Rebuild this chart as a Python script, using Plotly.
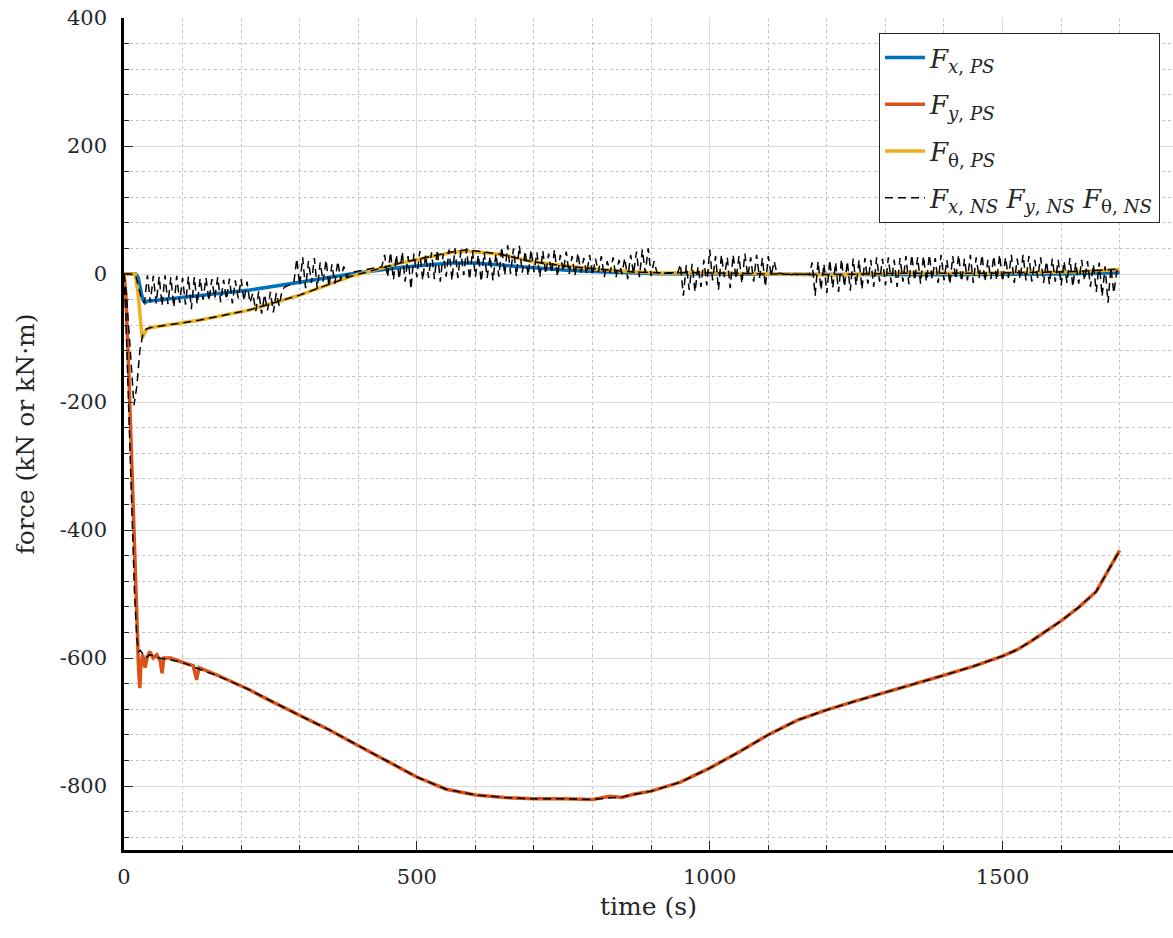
import plotly.graph_objects as go

# ---------------- data ----------------
FX_PS = [(0, 0), (20, 0), (24, -5), (28, -25), (32, -40), (36, -45), (40, -42), (44, -42),
         (130, -34), (215, -25), (300, -13), (386, 0), (471, 10), (556, 17), (600, 17),
         (642, 14), (698, 9), (756, 6), (812, 3.6), (909, 0.5), (1000, 0), (1200, -1),
         (1400, -1), (1600, 0), (1700, 2)]

FY_PS = [(0, 0), (3, -30), (8, -150), (13, -300), (18, -450), (22, -570), (25, -620),
         (27, -647), (29, -610), (32, -595), (36, -615), (40, -598), (44, -590), (50, -600),
         (56, -595), (62, -605), (65, -624), (68, -600), (80, -600), (100, -607), (118, -612),
         (124, -634), (128, -615), (160, -627), (215, -650), (250, -667), (300, -690),
         (350, -712), (400, -737), (450, -762), (500, -786), (550, -805), (600, -814),
         (650, -818), (700, -820), (750, -820), (800, -821), (830, -816), (850, -818),
         (870, -813), (900, -808), (950, -794), (1000, -772), (1050, -747), (1100, -720),
         (1150, -697), (1200, -681), (1250, -667), (1300, -654), (1350, -640), (1400, -627),
         (1450, -613), (1480, -604), (1500, -597), (1525, -587), (1550, -573), (1600, -542),
         (1631, -520), (1660, -496), (1671, -478), (1700, -432)]

FT_PS = [(0, 0), (19, 0), (24, -30), (28, -80), (31, -100), (34, -95), (38, -87), (44, -84),
         (130, -72), (215, -56), (300, -33), (386, -4), (471, 17), (556, 33), (585, 36),
         (642, 31), (698, 19), (756, 12.5), (812, 7), (869, 3.6), (909, 1.5), (983, 2),
         (1097, 0), (1210, -1.6), (1324, 1.5), (1461, 1), (1631, 3.6), (1700, 7)]

FY_NS = [(0, 0), (3, -60), (8, -210), (13, -360), (18, -500), (22, -570), (25, -590),
         (28, -588), (36, -600), (44, -595), (60, -600), (80, -603), (100, -607), (130, -618),
         (160, -628), (215, -650), (250, -667), (300, -690), (350, -712), (400, -737),
         (450, -762), (500, -786), (550, -805), (600, -814), (650, -818), (700, -820),
         (750, -820), (800, -821), (850, -817), (900, -808), (950, -794), (1000, -772),
         (1050, -747), (1100, -720), (1150, -697), (1200, -681), (1250, -667), (1300, -654),
         (1350, -640), (1400, -627), (1450, -613), (1480, -604), (1500, -597), (1525, -587),
         (1550, -573), (1600, -542), (1631, -520), (1660, -496), (1671, -478), (1700, -432)]

FT_NS = [(0, 0), (4, -30), (10, -110), (17, -205), (22, -175), (27, -120), (32, -95),
         (38, -86), (44, -84), (130, -72), (215, -56), (300, -33), (386, -4), (471, 17),
         (556, 34), (585, 38), (642, 31), (698, 19), (756, 12), (812, 7), (869, 3),
         (909, 2), (983, 2), (1097, 0), (1210, -1), (1324, 1), (1461, 1), (1631, 4), (1700, 8)]

FX_NS = [
    (0, 0), (5, 0), (10, 0), (15, 0), (20, -2), (25, -20), (30, -40), (35, -45), (40, -2), (45, -44),
    (50, -3), (55, -46), (60, -4), (65, -50), (70, -2), (75, -47), (80, -5), (85, -52), (90, -3),
    (95, -45), (100, -6), (105, -48), (110, -4), (115, -55), (120, -5), (125, -47), (130, -7),
    (135, -40), (140, -6), (145, -42), (150, -8), (155, -38), (160, -5), (165, -44), (170, -9),
    (175, -40), (180, -7), (185, -46), (190, -10), (195, -38), (200, -8), (205, -42), (210, -12),
    (215, -45), (220, -30), (225, -58), (230, -27), (235, -62), (240, -32), (245, -57), (250, -28),
    (255, -60), (260, -30), (265, -50), (270, -25), (275, -20), (280, -18), (285, -16), (290, -14),
    (295, 24), (300, -18), (305, 26), (310, -22), (315, 20), (320, -14), (325, 25), (330, -23),
    (335, 18), (340, -12), (345, 22), (350, -20), (355, 15), (360, -15), (365, 20), (370, -10),
    (375, 12), (380, -5), (385, 2), (390, 3), (395, 4), (400, 5), (405, 6), (410, 7), (415, 8),
    (420, 8), (425, 9), (430, 10), (435, 10), (440, 11),
    (445, 30), (450, -5), (455, 34), (460, -9), (465, 30), (470, -8), (475, 35), (480, -12),
    (485, 28), (490, -24), (495, 32), (500, -5), (505, 36), (510, -10), (515, 30), (520, -6),
    (525, 34), (530, -8), (535, 38), (540, -12), (545, 32), (550, -4), (555, 38), (560, -10),
    (565, 40), (570, -6), (575, 35), (580, -2), (585, 40), (590, -9), (595, 36), (600, -4),
    (605, 30), (610, -12), (615, 34), (620, -6), (625, 28), (630, -10), (635, 32), (640, -4),
    (645, 42), (650, -2), (655, 45), (660, 0), (665, 40), (670, -4), (675, 44), (680, 2),
    (685, 36), (690, -3), (695, 38), (700, 3), (705, 34), (710, -5), (715, 36), (720, 0),
    (725, 32), (730, 2), (735, 38), (740, -4), (745, 30), (750, 4), (755, 35), (760, 0),
    (765, 28), (770, -3), (775, 33), (780, 2), (785, 25), (790, 0), (795, 30), (800, -2),
    (805, 24), (810, 3), (815, 28), (820, -5), (825, 20), (830, 2), (835, 26), (840, -6),
    (845, 22), (850, 0), (855, 25), (860, -8), (865, 30), (870, 0), (875, 35), (880, -5),
    (885, 38), (890, 2), (895, 40), (900, -3), (905, 20),
    (910, 2), (915, 1), (920, 1), (925, 0), (930, 1), (935, 0), (940, 0), (945, 1),
    (950, 15), (955, -34), (960, 14), (965, -25), (970, 16), (975, -28), (980, 12), (985, -20),
    (990, 22), (995, -18), (1000, 38), (1005, -10), (1010, 28), (1015, -25), (1020, 30),
    (1025, -5), (1030, 26), (1035, -22), (1040, 30), (1045, -8), (1050, 28), (1055, -15),
    (1060, 32), (1065, -4), (1070, 26), (1075, -12), (1080, 30), (1085, -6), (1090, 25),
    (1095, -20), (1100, 28), (1105, -3), (1110, 20), (1115, 0),
    (1120, 1), (1125, 0), (1130, -1), (1135, 0), (1140, -1), (1145, 0), (1150, -1), (1155, 0),
    (1160, -1), (1165, 0), (1170, -1),
    (1175, 18), (1180, -34), (1185, 20), (1190, -25), (1195, 16), (1200, -30), (1205, 22),
    (1210, -22), (1215, 18), (1220, -28), (1225, 23), (1230, -20), (1235, 20), (1240, -26),
    (1245, 24), (1250, -18), (1255, 22), (1260, -24), (1265, 25), (1270, -15), (1275, 22),
    (1280, -20), (1285, 26), (1290, -12), (1295, 24), (1300, -18), (1305, 26), (1310, -14),
    (1315, 22), (1320, -20), (1325, 25), (1330, -12), (1335, 28), (1340, -16), (1345, 30),
    (1350, -10), (1355, 26), (1360, -15), (1365, 28), (1370, -12), (1375, 30), (1380, -8),
    (1385, 25), (1390, -14), (1395, 30), (1400, -10), (1405, 22), (1410, -16), (1415, 28),
    (1420, -8), (1425, 30), (1430, -12), (1435, 24), (1440, -10), (1445, 30), (1450, -14),
    (1455, 26), (1460, -6), (1465, 30), (1470, -12), (1475, 22), (1480, -8), (1485, 28),
    (1490, -10), (1495, 30), (1500, -12), (1505, 26), (1510, -6), (1515, 30), (1520, -14),
    (1525, 24), (1530, -8), (1535, 30), (1540, -10), (1545, 28), (1550, -12), (1555, 22),
    (1560, -6), (1565, 26), (1570, -14), (1575, 20), (1580, -16), (1585, 24), (1590, -12),
    (1595, 22), (1600, -18), (1605, 20), (1610, -14), (1615, 25), (1620, -20), (1625, 18),
    (1630, -15), (1635, 22), (1640, -10), (1645, 20), (1650, -20), (1655, 15), (1660, -28),
    (1665, 18), (1670, -35), (1675, 12), (1680, -45), (1685, 10), (1690, -30), (1695, 5),
    (1700, 2)]

X_TICKS = [0, 500, 1000, 1500]
X_TICK_TEXT = ["0", "500", "1000", "1500"]
Y_TICKS = [400, 200, 0, -200, -400, -600, -800]
Y_TICK_TEXT = ["400", "200", "0", "-200", "-400", "-600", "-800"]

BLUE, ORANGE, YELLOW = "#0072BD", "#D95319", "#EDB120"
FONT = "DejaVu Serif"
TXT = "#262626"


def xs(p):
    return [a for a, _ in p]


def ys(p):
    return [b for _, b in p]


fig = go.Figure()
fig.add_trace(go.Scatter(x=xs(FX_PS), y=ys(FX_PS), mode="lines", line=dict(color=BLUE, width=3.5),
                         legendgroup="a", name="<i>F</i><sub><i>x</i>, <i>PS</i></sub>"))
fig.add_trace(go.Scatter(x=xs(FY_PS), y=ys(FY_PS), mode="lines", line=dict(color=ORANGE, width=3.5),
                         legendgroup="b", name="<i>F</i><sub><i>y</i>, <i>PS</i></sub>"))
fig.add_trace(go.Scatter(x=xs(FT_PS), y=ys(FT_PS), mode="lines", line=dict(color=YELLOW, width=3.5),
                         legendgroup="c", name="<i>F</i><sub>θ, <i>PS</i></sub>"))
dash = dict(color="black", width=1.5, dash="8px,5px")
fig.add_trace(go.Scatter(x=xs(FX_NS), y=ys(FX_NS), mode="lines", line=dash, legendgroup="d",
                         name="<i>F</i><sub><i>x</i>, <i>NS</i></sub> <i>F</i><sub><i>y</i>, <i>NS</i></sub> <i>F</i><sub>θ, <i>NS</i></sub>"))
fig.add_trace(go.Scatter(x=xs(FY_NS), y=ys(FY_NS), mode="lines", line=dash, legendgroup="d", showlegend=False))
fig.add_trace(go.Scatter(x=xs(FT_NS), y=ys(FT_NS), mode="lines", line=dash, legendgroup="d", showlegend=False))

axis_common = dict(
    showgrid=True, gridcolor="#dadada", gridwidth=1, automargin=False,
    zeroline=False, showline=True, linecolor="black", linewidth=2.5,
    ticks="inside", ticklen=9, tickwidth=1, tickcolor=TXT,
    tickfont=dict(family=FONT, size=21, color=TXT),
    ticklabeloverflow="allow",
)

fig.update_layout(
    width=1173, height=938,
    margin=dict(l=124, r=0, t=18, b=88),
    plot_bgcolor="white", paper_bgcolor="white",
    font=dict(family=FONT, color=TXT),
    xaxis=dict(range=[0, 1791], tickvals=X_TICKS, ticktext=X_TICK_TEXT, ticklabelstandoff=6,
               minor=dict(dtick=100, showgrid=True, gridcolor="#c4c4c4", griddash="dot",
                          ticks="inside", ticklen=5, tickcolor=TXT),
               title=dict(text="time (s)", font=dict(family=FONT, size=25, color=TXT), standoff=10),
               **axis_common),
    yaxis=dict(range=[-900, 400], tickvals=Y_TICKS, ticktext=Y_TICK_TEXT, ticklabelstandoff=10,
               minor=dict(dtick=40, showgrid=True, gridcolor="#c4c4c4", griddash="dot",
                          ticks="inside", ticklen=5, tickcolor=TXT),
               title=dict(text="force (kN or kN·m)", font=dict(family=FONT, size=25, color=TXT), standoff=19),
               **axis_common),
    xaxis2=dict(overlaying="x", matches="x", side="top", anchor="y", showgrid=False, automargin=False,
                showticklabels=False, showline=True, linecolor=TXT, linewidth=1.3,
                ticks="inside", ticklen=9, tickcolor=TXT, tickvals=X_TICKS,
                minor=dict(dtick=100, ticks="inside", ticklen=5, tickcolor=TXT, showgrid=False)),
    legend=dict(x=0.9876, y=0.982, xanchor="right", yanchor="top",
                bgcolor="white", bordercolor=TXT, borderwidth=1,
                font=dict(family=FONT, size=26, color=TXT),
                traceorder="grouped", tracegroupgap=10, itemwidth=40),
    showlegend=True,
)

fig.write_html("out.html", config={"displayModeBar": False},
               post_script="document.body.style.margin='0';document.body.style.overflow='hidden';")
